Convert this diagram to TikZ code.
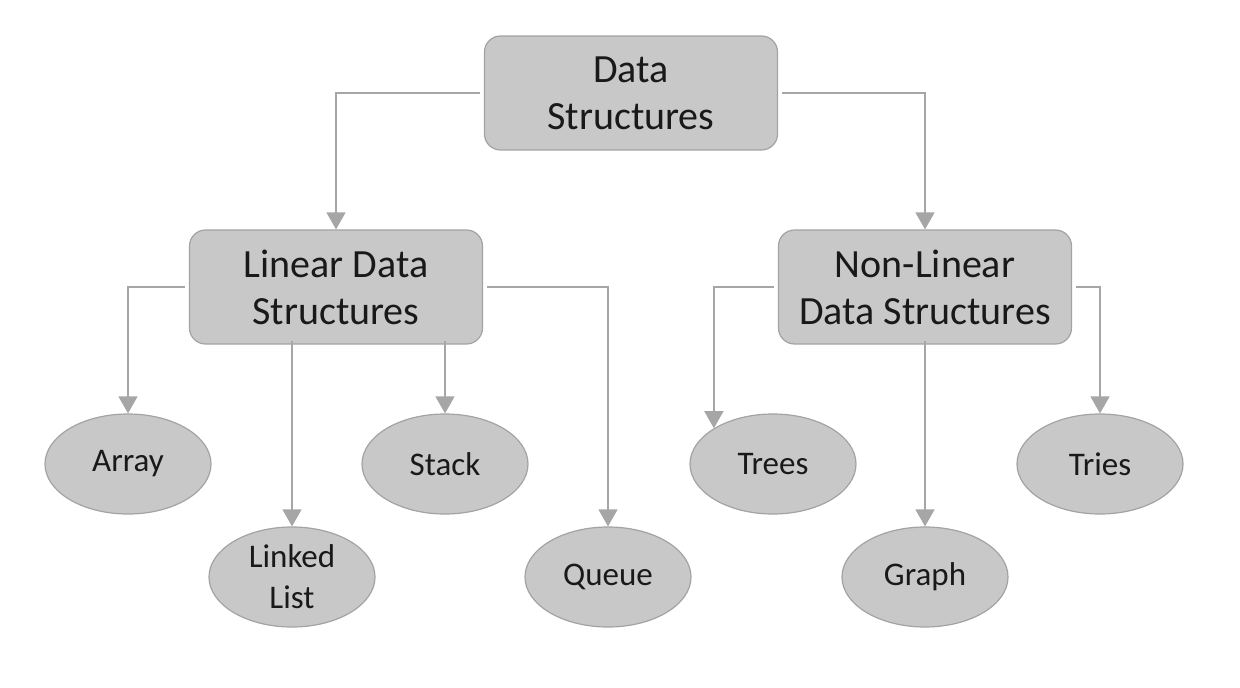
\documentclass[tikz,border=0pt]{standalone}
\usepackage{fontspec}
\setmainfont{Carlito}
\usetikzlibrary{arrows.meta,shapes.geometric}
\definecolor{boxfill}{HTML}{C8C8C8}
\definecolor{boxline}{HTML}{A3A3A3}
\definecolor{linkgray}{HTML}{A6A6A6}
\begin{document}
\begin{tikzpicture}[x=1pt, y=-1pt,
 group/.style = {draw=boxline, line width=1.2pt, fill=boxfill, rounded corners=16pt,
   minimum width=293pt, minimum height=114pt, inner sep=0pt, align=center,
   font=\fontsize{40}{47}\selectfont, text=black!90},
 item/.style = {ellipse, draw=boxline, line width=1.2pt, fill=boxfill,
   minimum width=166pt, minimum height=100pt, inner sep=0pt, align=center,
   font=\fontsize{33}{41}\selectfont, text=black!90},
 link/.style = {draw=linkgray, line width=1.5pt, shorten <=4pt,
   -{Triangle[width=19pt,length=17pt]}}]

\useasboundingbox (0,0) rectangle (1240,688);

\node[group] (ds) at (631,93) {Data\\Structures};
\node[group] (lin) at (336,287) {Linear Data\\Structures};
\node[group] (nonlin) at (925,287) {Non-Linear\\Data Structures};

\node[item] (array) at (128,464) {Array};
\node[item] (linked) at (292,577) {Linked\\List};
\node[item] (stack) at (445,464) {Stack};
\node[item] (queue) at (608,577) {Queue};
\node[item] (trees) at (773,464) {Trees};
\node[item] (graph) at (925,577) {Graph};
\node[item] (tries) at (1100,464) {Tries};

\foreach \i/\j in {ds.west/lin.north, ds.east/nonlin.north, lin.west/array.north,
 lin.south -| linked.north/linked.north, lin.south -| stack.north/stack.north,
 lin.east/queue.north, nonlin.west/trees.north west, nonlin.south/graph.north,
 nonlin.east/tries.north}
\draw[link] (\i) -| (\j);

\end{tikzpicture}
\end{document}
